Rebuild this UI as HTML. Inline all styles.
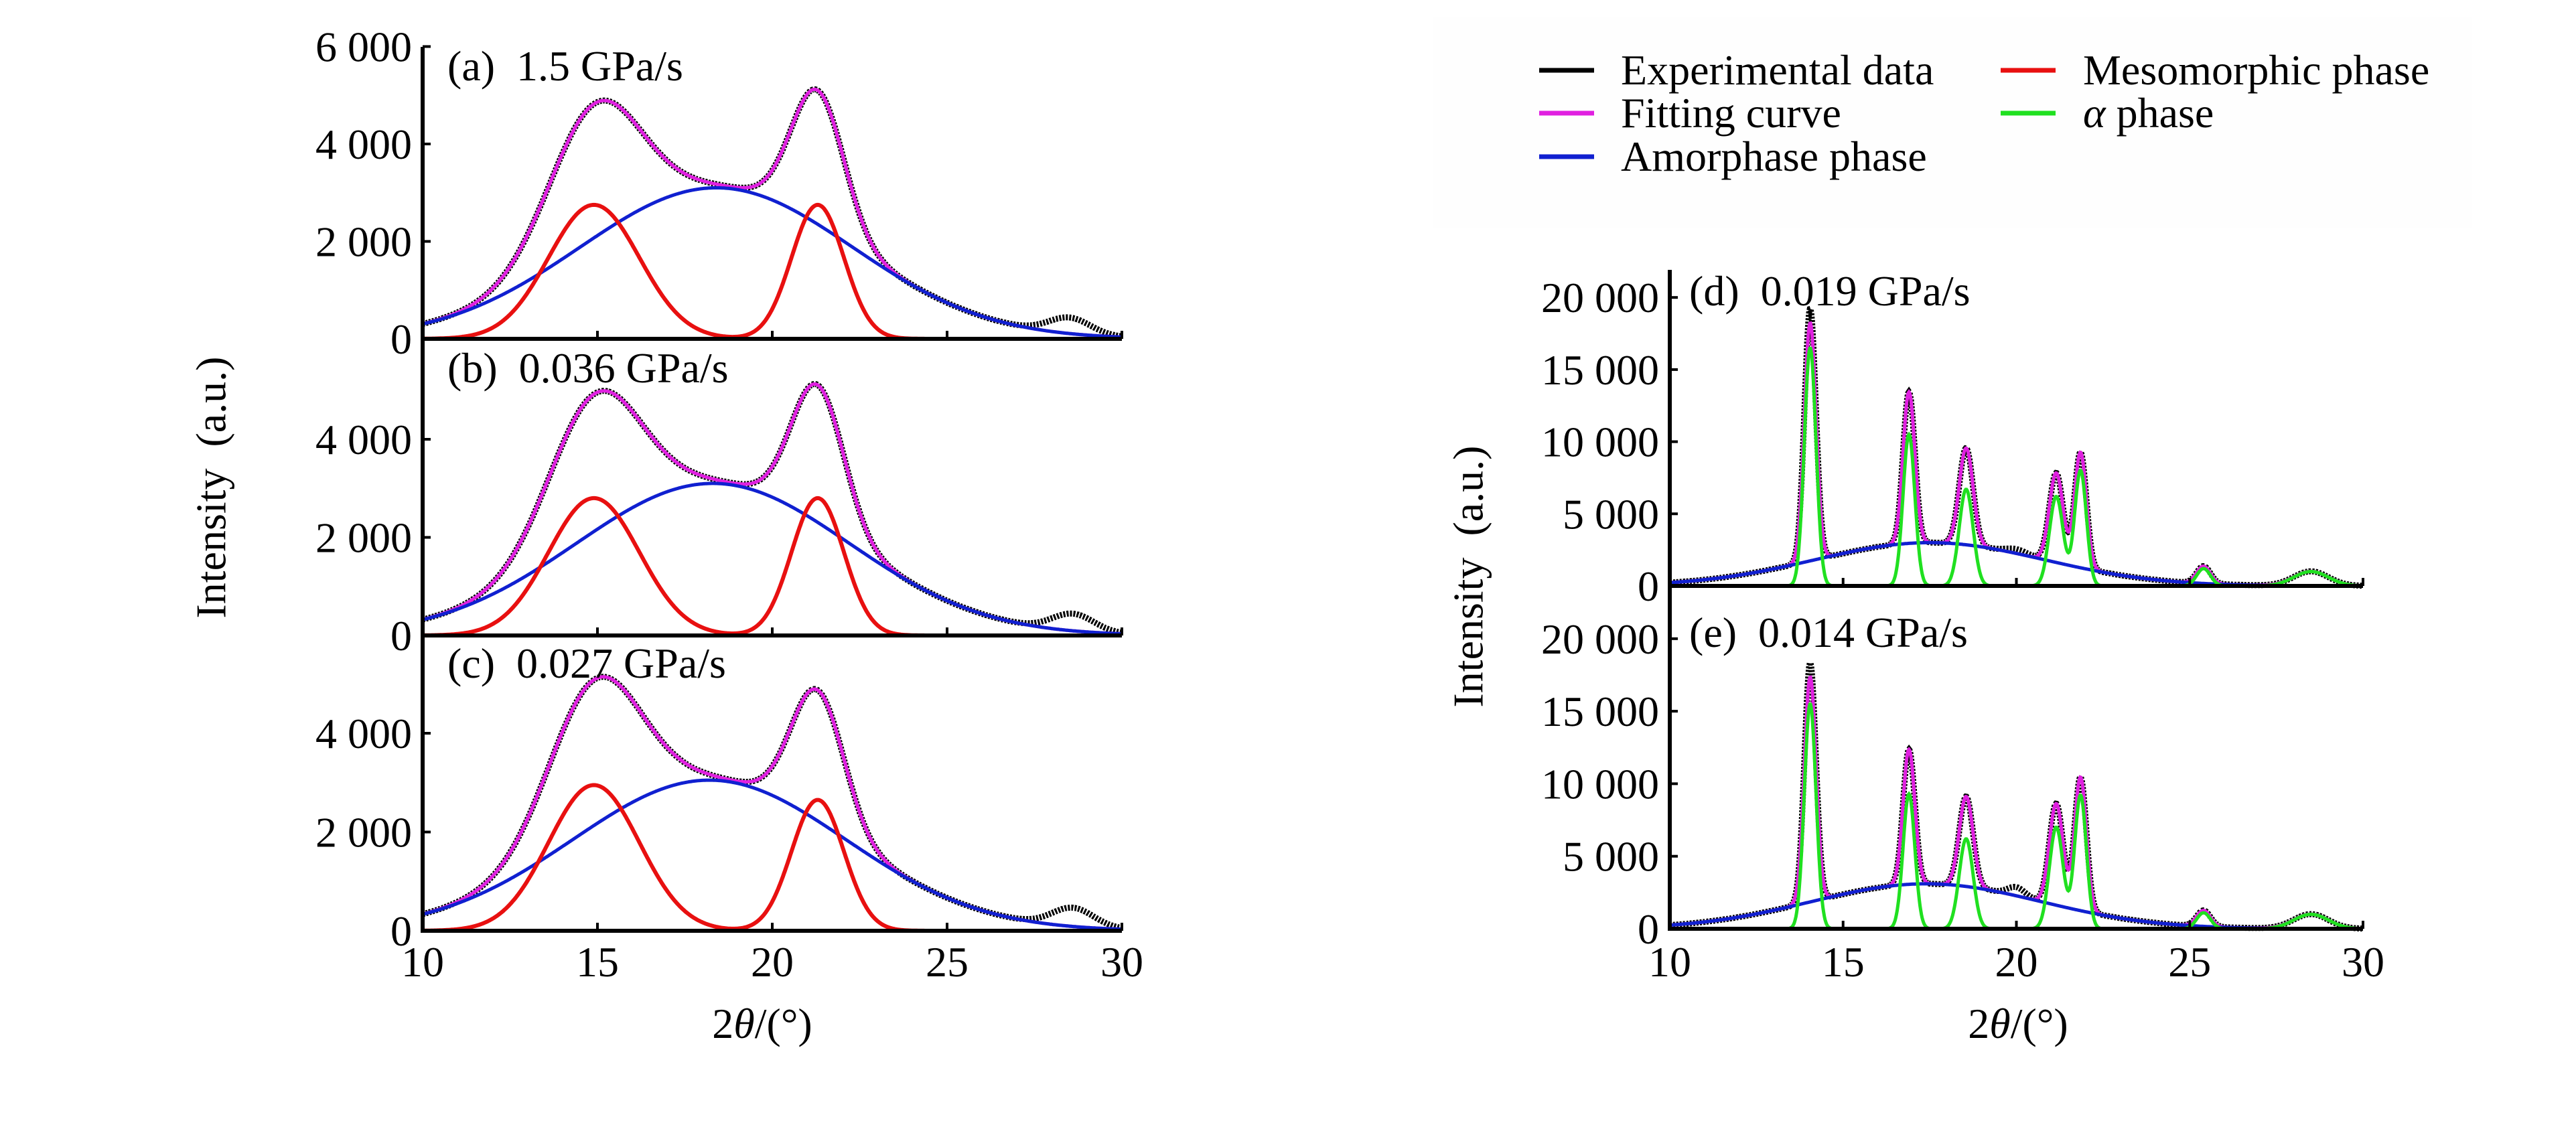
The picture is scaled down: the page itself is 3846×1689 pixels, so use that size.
<!DOCTYPE html>
<html><head><meta charset="utf-8"><style>
html,body{margin:0;padding:0;background:#fff;}
svg{display:block;}
text{font-family:"Liberation Serif",serif;fill:#000;white-space:pre;}
</style></head><body>
<svg id="fig" width="3846" height="1689" viewBox="0 0 3846 1689" xmlns="http://www.w3.org/2000/svg">
<rect x="0" y="0" width="3846" height="1689" fill="#fff"/>
<rect x="2140" y="25" width="1550" height="315" fill="#fefefe"/>
<g id="legend">
 <g><line x1="2298" y1="105" x2="2380" y2="105" stroke="#000" stroke-width="7"/><text x="2420" y="126" font-size="64">Experimental data</text></g>
 <g><line x1="2298" y1="169" x2="2380" y2="169" stroke="#e020e0" stroke-width="7"/><text x="2420" y="190" font-size="64">Fitting curve</text></g>
 <g><line x1="2298" y1="234" x2="2380" y2="234" stroke="#1020d0" stroke-width="7"/><text x="2420" y="255" font-size="64">Amorphase phase</text></g>
 <g><line x1="2987" y1="105" x2="3069" y2="105" stroke="#e81010" stroke-width="7"/><text x="3110" y="126" font-size="64">Mesomorphic phase</text></g>
 <g><line x1="2987" y1="169" x2="3069" y2="169" stroke="#20e020" stroke-width="7"/><text x="3110" y="190" font-size="64"><tspan font-style="italic">α</tspan> phase</text></g>
</g>
<g id="plots"></g>
</svg>
<script>
// ---- data ----
const xTickValues=[10,15,20,25,30];
const leftYTicks=[[0,2000,4000,6000],[0,2000,4000],[0,2000,4000]];
const rightYTicks=[0,5000,10000,15000,20000];
const panelLabels=["(a)  1.5 GPa/s","(b)  0.036 GPa/s","(c)  0.027 GPa/s","(d)  0.019 GPa/s","(e)  0.014 GPa/s"];
// mesomorphic peaks (center, height, sigma)
const aMesoCenters=[14.9,21.3], aMesoHeights=[2750,2750], aMesoWidths=[1.3,0.75];
const bMesoCenters=[14.9,21.3], bMesoHeights=[2800,2800], bMesoWidths=[1.3,0.75];
const cMesoCenters=[14.9,21.3], cMesoHeights=[2950,2650], cMesoWidths=[1.3,0.75];
// amorphous halo (center, height, sigma)
const aAmorph=[18.4,3100,3.9], bAmorph=[18.3,3100,3.9], cAmorph=[18.2,3050,3.9];
const dAmorph=[17.5,3000,3.3], eAmorph=[17.4,3100,3.3];
// alpha peaks
const dAlphaCenters=[14.05,16.9,18.55,21.15,21.85,25.4,28.5], dAlphaHeights=[16500,10500,6700,6200,8000,1200,1000], dAlphaWidths=[0.17,0.17,0.2,0.2,0.17,0.2,0.5];
const eAlphaCenters=[14.05,16.9,18.55,21.15,21.85,25.4,28.5], eAlphaHeights=[15500,9300,6200,7000,9200,1100,1000], eAlphaWidths=[0.17,0.17,0.2,0.2,0.17,0.2,0.5];
// experimental residual features not in fit
const aExtraCenters=[28.5], aExtraHeights=[330], aExtraWidths=[0.6];
const bExtraCenters=[28.6], bExtraHeights=[350], bExtraWidths=[0.6];
const cExtraCenters=[28.6], cExtraHeights=[380], cExtraWidths=[0.6];
const dExtraCenters=[14.05,20.0], dExtraHeights=[1000,300], dExtraWidths=[0.1,0.3];
const eExtraCenters=[14.05,20.0], eExtraHeights=[1000,600], eExtraWidths=[0.1,0.25];

const NS="http://www.w3.org/2000/svg";
const root=document.getElementById('plots');
function g(x,c,h,s){return h*Math.exp(-((x-c)*(x-c))/(2*s*s));}
function sumP(x,cs,hs,ws){let v=0;for(let i=0;i<cs.length;i++)v+=g(x,cs[i],hs[i],ws[i]);return v;}
function mk(tag,attrs,parent){const e=document.createElementNS(NS,tag);for(const k in attrs)e.setAttribute(k,attrs[k]);(parent||root).appendChild(e);return e;}

const panels=[
 {x0:631,x1:1675,base:506,top:70,ppu:145.5/2000,ticks:leftYTicks[0],lx:615,label:panelLabels[0],ly:120,lab:668,
  meso:[aMesoCenters,aMesoHeights,aMesoWidths],am:aAmorph,alpha:null,extra:[aExtraCenters,aExtraHeights,aExtraWidths],name:'a'},
 {x0:631,x1:1675,base:949,top:506,ppu:146.5/2000,ticks:leftYTicks[1],lx:615,label:panelLabels[1],ly:571,lab:668,
  meso:[bMesoCenters,bMesoHeights,bMesoWidths],am:bAmorph,alpha:null,extra:[bExtraCenters,bExtraHeights,bExtraWidths],name:'b'},
 {x0:631,x1:1675,base:1390,top:949,ppu:147.5/2000,ticks:leftYTicks[2],lx:615,label:panelLabels[2],ly:1012,lab:668,
  meso:[cMesoCenters,cMesoHeights,cMesoWidths],am:cAmorph,alpha:null,extra:[cExtraCenters,cExtraHeights,cExtraWidths],name:'c'},
 {x0:2493,x1:3528,base:875,top:403,ppu:107.7/5000,ticks:rightYTicks,lx:2477,label:panelLabels[3],ly:456,lab:2522,
  meso:null,am:dAmorph,alpha:[dAlphaCenters,dAlphaHeights,dAlphaWidths],extra:[dExtraCenters,dExtraHeights,dExtraWidths],name:'d'},
 {x0:2493,x1:3528,base:1387,top:875,ppu:108.3/5000,ticks:rightYTicks,lx:2477,label:panelLabels[4],ly:966,lab:2522,
  meso:null,am:eAmorph,alpha:[eAlphaCenters,eAlphaHeights,eAlphaWidths],extra:[eExtraCenters,eExtraHeights,eExtraWidths],name:'e'}
];

panels.forEach(p=>{
 const grp=mk('g',{});
 
 
 const X=v=>p.x0+(v-10)/20*(p.x1-p.x0);
 const Y=v=>p.base-v*p.ppu;
 const xs=[];for(let i=0;i<=1000;i++)xs.push(10+i*0.02);
 const amorph=x=>g(x,p.am[0],p.am[1],p.am[2]);
 const meso=x=>p.meso?sumP(x,p.meso[0],p.meso[1],p.meso[2]):0;
 const alpha=x=>p.alpha?sumP(x,p.alpha[0],p.alpha[1],p.alpha[2]):0;
 const fit=x=>amorph(x)+meso(x)+alpha(x);
 const exp=x=>fit(x)+sumP(x,p.extra[0],p.extra[1],p.extra[2]);
 const path=f=>xs.map((x,i)=>(i?'L':'M')+X(x).toFixed(1)+' '+Y(f(x)).toFixed(1)).join(' ');
 const e1=mk('path',{d:path(exp),fill:'none',stroke:'#000','stroke-width':9,'stroke-dasharray':'3 2'},grp);
 
 
 const e2=mk('path',{d:path(fit),fill:'none',stroke:'#e020e0','stroke-width':5},grp);
 
 
 const e3=mk('path',{d:path(amorph),fill:'none',stroke:'#1020d0','stroke-width':5},grp);
 
 
 if(p.meso){
  const e4=mk('path',{d:path(meso),fill:'none',stroke:'#e81010','stroke-width':6},grp);
  
  
 }
 if(p.alpha){
  const e5=mk('path',{d:path(alpha),fill:'none',stroke:'#20e020','stroke-width':5},grp);
  
  
 }
 const ax=mk('line',{x1:p.x0,y1:p.top,x2:p.x0,y2:p.base+2,stroke:'#000','stroke-width':6},grp);
 
 
 const bx=mk('line',{x1:p.x0-3,y1:p.base,x2:p.x1,y2:p.base,stroke:'#000','stroke-width':6},grp);
 
 
 p.ticks.forEach(t=>{
  const tk=mk('line',{x1:p.x0,y1:Y(t),x2:p.x0+12,y2:Y(t),stroke:'#000','stroke-width':4},grp);
  
  
  const s=t>=1000?Math.floor(t/1000)+' '+String(t%1000).padStart(3,'0'):String(t);
  const tl=mk('text',{x:p.lx,y:Y(t)+22,'font-size':64,'text-anchor':'end'},grp);
  tl.textContent=s;
  
  
 });
 xTickValues.forEach(v=>{
  const tk=mk('line',{x1:X(v),y1:p.base,x2:X(v),y2:p.base-12,stroke:'#000','stroke-width':4},grp);
  
  
 });
 const lb=mk('text',{x:p.lab,y:p.ly,'font-size':64},grp);
 lb.textContent=p.label;
 
 
});
[[631,1675,1138],[2493,3528,3013]].forEach(c=>{
 xTickValues.forEach(v=>{
  const t=mk('text',{x:c[0]+(v-10)/20*(c[1]-c[0]),y:1458,'font-size':64,'text-anchor':'middle'});
  t.textContent=String(v);
  
  
 });
 const tt=mk('text',{x:c[2],y:1550,'font-size':64,'text-anchor':'middle'});
 tt.innerHTML='2<tspan font-style="italic">θ</tspan>/(°)';
 
 
});
[[315,728],[2192,861]].forEach(c=>{
 const t=mk('text',{x:c[0],y:c[1],'font-size':64,'text-anchor':'middle',transform:'rotate(-90 '+c[0]+' '+c[1]+')','dominant-baseline':'central'});
 t.textContent='Intensity  (a.u.)';
 
 
});
</script>
</body></html>
